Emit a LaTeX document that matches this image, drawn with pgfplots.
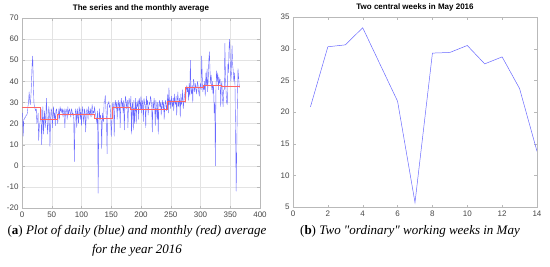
\documentclass[border=0pt]{standalone}
\usepackage{fontspec}
\setmainfont{Liberation Serif}
\setsansfont{Liberation Sans}
\usepackage{pgfplots}
\pgfplotsset{compat=1.18}
\usepackage{pgfplotstable}

% daily values, 2016 (one row per day, months on separate lines)
\pgfplotstableread[row sep=\\, header=false]{
25\\14\\22\\22\\23\\23\\24\\24\\25\\28\\30\\35\\31\\29\\33\\40\\48\\52\\40\\30\\28\\27\\26\\27\\20\\21\\25\\12\\18\\20\\22\\
27\\10\\20\\28\\15\\22\\26\\18\\22\\32\\24\\15\\20\\28\\25\\9\\22\\27\\26\\18\\24\\28\\22\\25\\19\\26\\27\\24\\20\\
24\\27\\22\\28\\26\\27\\25\\27\\23\\26\\27\\18\\25\\27\\26\\22\\28\\24\\26\\27\\25\\23\\27\\26\\24\\25\\22\\2\\20\\27\\26\\
18\\27\\24\\20\\28\\26\\22\\27\\19\\25\\28\\23\\20\\27\\25\\16\\24\\27\\26\\22\\28\\25\\24\\27\\23\\26\\29\\24\\26\\25\\
28\\25\\24\\22\\20\\26\\-13\\19\\27\\22\\24\\21\\8\\25\\22\\20.8\\30.3\\30.6\\33.3\\27.5\\21.7\\5.7\\29.3\\29.4\\30.5\\27.6\\28.7\\23.7\\13.8\\20\\29\\
30\\28\\14\\29\\31\\27\\30\\22\\29\\31\\26\\30\\18\\29\\32\\28\\30\\25\\31\\17\\29\\33\\30\\27\\31\\18\\29\\32\\30\\28\\
33\\15\\28\\30\\17\\31\\20\\26\\32\\20\\30\\28\\31\\22\\32\\30\\27\\33\\25\\31\\29\\21\\32\\30\\28\\18\\33\\29\\31\\24\\28\\
30\\29\\33\\31\\28\\16\\30\\27\\32\\29\\19\\31\\28\\22\\30\\15\\29\\31\\28\\30\\24\\29\\31\\27\\30\\22\\28\\31\\29\\26\\30\\
34\\25\\37\\29\\31\\27\\33\\30\\28\\32\\26\\34\\30\\29\\33\\24\\31\\35\\28\\30\\32\\23\\34\\29\\31\\36\\27\\30\\33\\35\\
30\\36\\38\\35\\37\\31\\39\\33\\50\\36\\34\\38\\30\\41\\40\\35\\37\\39\\34\\36\\40\\38\\35\\33\\37\\39\\36\\52\\42\\35\\38\\
36\\40\\33\\44\\38\\46\\35\\41\\50\\54\\45\\39\\43\\36\\40\\34\\38\\25\\30\\0\\37\\45\\40\\44\\36\\42\\39\\41\\28\\38\\
40\\32\\28\\36\\36\\58\\42\\35\\30\\29\\48\\44\\56\\60\\50\\40\\44\\57\\48\\45\\40\\44\\38\\15\\-12\\10\\30\\46\\42\\38\\37\\
}\daily

\definecolor{mblue}{RGB}{105,105,255}
\definecolor{mred}{RGB}{255,100,100}
\definecolor{tickgray}{RGB}{70,70,70}

\pgfplotsset{
  mstyle/.style={
    scale only axis,
    width=238pt, height=190pt,
    axis line style={gray!55},
    tick style={gray!55},
    tick align=inside,
    major tick length=2.5pt,
    ticklabel style={font=\sffamily\fontsize{8}{9}\selectfont, text=tickgray},
    /pgf/number format/assume math mode=true,
    title style={font=\sffamily\bfseries\fontsize{8}{9}\selectfont, yshift=-4pt},
  },
}

\begin{document}
\begin{tikzpicture}
\useasboundingbox (0,0) rectangle (550pt,266pt);

\begin{axis}[mstyle,
  at={(22pt,58pt)}, anchor=south west,
  xmin=0, xmax=400, ymin=-20, ymax=70,
  xtick={0,50,...,400}, ytick={-20,-10,...,70},
  grid=major, grid style={gray!22},
  title={The series and the monthly average}]
\addplot[mblue, line width=0.4pt, no marks, line join=round] table[x expr=\coordindex+1, y index=0] {\daily};
\addplot[mred, line width=0.5pt, no marks, const plot] coordinates {
  (0,27.5) (31,22) (60,24.2) (91,24.2) (121,22.5) (152,27.7) (182,27) (213,27) (244,30.5) (274,37) (305,38) (335,37.5) (366,37.5)};
\end{axis}

\begin{axis}[mstyle,
  at={(293pt,59pt)}, anchor=south west,
  width=244pt,
  xmin=0, xmax=14, ymin=5, ymax=35,
  xtick={0,2,...,14}, ytick={5,10,...,35},
  title={Two central weeks in May 2016}]
\addplot[mblue, line width=0.5pt, no marks] coordinates {
  (1,20.8) (2,30.3) (3,30.6) (4,33.3) (5,27.5) (6,21.7) (7,5.7)
  (8,29.3) (9,29.4) (10,30.5) (11,27.6) (12,28.7) (13,23.7) (14,13.8)};
\end{axis}

\node[font=\fontsize{13}{15}\selectfont] at (137pt,35pt) {(\textbf{a}) \textit{Plot of daily (blue) and monthly (red) average}};
\node[font=\fontsize{13}{15}\selectfont] at (137pt,16pt) {\textit{for the year 2016}};
\node[font=\fontsize{13}{15}\selectfont] at (410pt,35pt) {(\textbf{b}) \textit{Two \textquotedbl ordinary\textquotedbl{} working weeks in May}};
\end{tikzpicture}
\end{document}
